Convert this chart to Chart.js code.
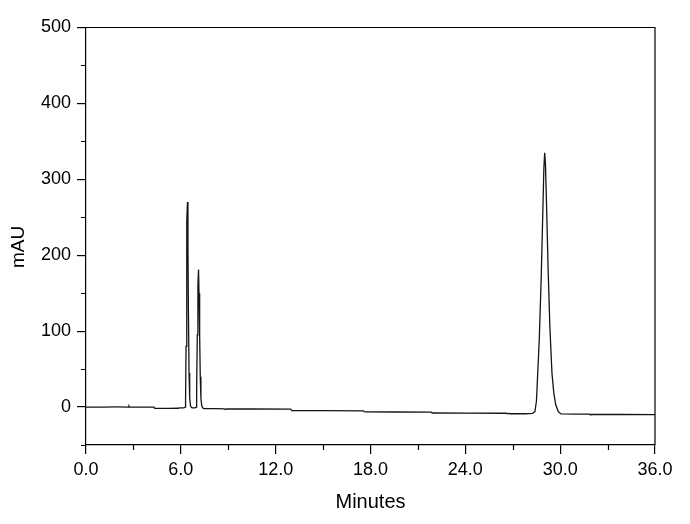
<!DOCTYPE html>
<html>
<head>
<meta charset="utf-8">
<script src="https://cdn.jsdelivr.net/npm/chart.js@4/dist/chart.umd.min.js"></script>
<style>
  html, body { margin: 0; padding: 0; background: #fff; }
  #wrap { width: 690px; height: 524px; }
</style>
</head>
<body>
<div id="wrap"><canvas id="c" width="690" height="524"></canvas></div>
<script>
// ---- data ----
const timeMin = [
  0.0, 1.0, 2.0, 2.70, 2.72, 2.76, 3.5, 4.30, 4.34, 5.2, 5.85, 5.90, 6.20,
  6.27, 6.30, 6.33, 6.36, 6.39, 6.42, 6.45, 6.48, 6.52, 6.56, 6.61, 6.67, 6.75, 6.82, 6.90,
  6.97, 7.00, 7.04, 7.08, 7.12, 7.15, 7.19, 7.23, 7.27, 7.32, 7.38, 7.45,
  8.2, 8.75, 8.80, 8.90, 10.5, 12.95, 13.02, 15.0, 17.55, 17.60, 17.70, 19.5,
  21.85, 21.90, 21.97, 24.0, 26.60, 26.65, 26.75, 26.85, 27.8, 28.25,
  28.40, 28.50, 28.57, 28.68, 28.80, 28.90, 28.97, 29.02, 29.07, 29.14, 29.24,
  29.35, 29.48, 29.60, 29.72, 29.88, 30.05, 31.0, 31.85, 31.90, 31.95, 34.0, 36.0
];
const absorbance = [
  0, 0, 0.1, 0, 1.2, -0.2, 0, 0, -1.6, -1.7, -1.6, -1.2, -1.2,
  0, 10, 80, 170, 245, 270, 210, 125, 45, 12, 2, -0.5, -1, -1.2, -1,
  0, 20, 95, 160, 181, 150, 95, 40, 12, 2, -1, -2,
  -2.2, -2.3, -3.2, -2.5, -2.6, -2.7, -4.6, -4.8, -5.0, -6.2, -6.4, -6.5,
  -6.7, -7.8, -7.6, -7.9, -8.2, -8.9, -8.3, -8.8, -8.8, -8.4,
  -6, 8, 40, 90, 170, 255, 315, 335, 320, 265, 180,
  105, 45, 18, 3, -6, -9, -9.2, -9.3, -10.2, -9.6, -9.8, -10.0
];
const xMajorTicks = [0, 6, 12, 18, 24, 30, 36];
const xMinorTicks = [3, 9, 15, 21, 27, 33];
const yMajorTicks = [0, 100, 200, 300, 400, 500];
const yMinorTicks = [-50, 50, 150, 250, 350, 450];
const xTitle = 'Minutes';
const yTitle = 'mAU';

const FONT = '"Liberation Sans", Arial, Helvetica, sans-serif';
const AXIS_W = 1.2;

const framePlugin = {
  id: 'frame',
  afterDraw(chart) {
    const ctx = chart.ctx;
    const a = chart.chartArea;
    const xs = chart.scales.x, ys = chart.scales.y;
    ctx.save();
    ctx.strokeStyle = '#000';
    ctx.lineWidth = AXIS_W;
    ctx.beginPath();
    ctx.moveTo(a.left, a.top);
    ctx.lineTo(a.right, a.top);
    ctx.lineTo(a.right, a.bottom);
    ctx.stroke();
    // minor ticks (outward)
    ctx.beginPath();
    xMinorTicks.forEach(v => {
      const px = Math.round(xs.getPixelForValue(v)) + 0.5;
      ctx.moveTo(px, a.bottom);
      ctx.lineTo(px, a.bottom + 5);
    });
    yMinorTicks.forEach(v => {
      const py = Math.round(ys.getPixelForValue(v)) + 0.5;
      ctx.moveTo(a.left, py);
      ctx.lineTo(a.left - 5, py);
    });
    ctx.stroke();
    // y axis title, placed as in the reference (slightly below centre)
    ctx.fillStyle = '#000';
    ctx.font = '19px ' + FONT;
    ctx.textAlign = 'center';
    ctx.textBaseline = 'middle';
    ctx.translate(19, 247);
    ctx.rotate(-Math.PI / 2);
    ctx.fillText(yTitle, 0, 0);
    ctx.restore();
  }
};

new Chart(document.getElementById('c'), {
  type: 'scatter',
  data: {
    datasets: [{
      data: timeMin.map((t, i) => ({ x: t, y: absorbance[i] })),
      showLine: true,
      borderColor: '#141414',
      borderWidth: 1.3,
      pointRadius: 0,
      tension: 0,
      fill: false
    }]
  },
  options: {
    responsive: false,
    animation: false,
    devicePixelRatio: 1,
    layout: { padding: { top: 27.5, right: 35, bottom: 0, left: 0 } },
    plugins: { legend: { display: false }, tooltip: { enabled: false } },
    scales: {
      x: {
        type: 'linear',
        min: 0, max: 36,
        afterBuildTicks: s => { s.ticks = xMajorTicks.map(v => ({ value: v })); },
        afterFit: s => { s.height = 524 - 445; },
        ticks: {
          color: '#000',
          font: { family: FONT, size: 18 },
          padding: 5,
          maxRotation: 0,
          autoSkip: false,
          callback: v => Number(v).toFixed(1)
        },
        grid: { display: true, drawOnChartArea: false, drawTicks: true, tickLength: 9, color: '#000', lineWidth: AXIS_W },
        border: { display: true, color: '#000', width: AXIS_W },
        title: { display: true, text: xTitle, color: '#000', font: { family: FONT, size: 20 }, padding: { top: 0, bottom: 10 } }
      },
      y: {
        type: 'linear',
        min: -50, max: 500,
        afterBuildTicks: s => { s.ticks = yMajorTicks.map(v => ({ value: v })); },
        afterFit: s => { s.width = 86; },
        ticks: {
          color: '#000',
          font: { family: FONT, size: 18 },
          padding: 6,
          autoSkip: false,
          callback: v => String(v)
        },
        grid: { display: true, drawOnChartArea: false, drawTicks: true, tickLength: 9, color: '#000', lineWidth: AXIS_W },
        border: { display: true, color: '#000', width: AXIS_W },
        title: { display: false }
      }
    }
  },
  plugins: [framePlugin]
});
</script>
</body>
</html>
